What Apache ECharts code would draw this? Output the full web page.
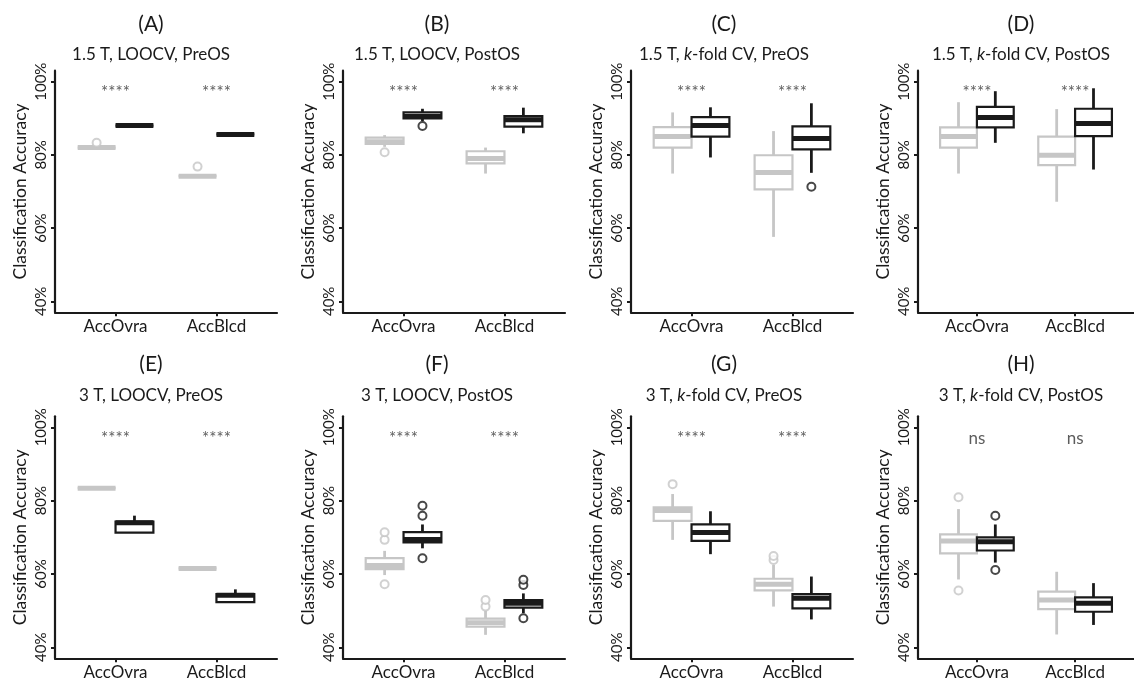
<!DOCTYPE html>
<html><head><meta charset="utf-8">
<script src="https://cdn.jsdelivr.net/npm/echarts@6/dist/echarts.min.js"></script>
<style>html,body{margin:0;padding:0;background:#fff}#c{width:1134px;height:685px}</style>
</head><body><div id="c"></div>
<script>
// ---------------- DATA ----------------
const categories = ['AccOvra', 'AccBlcd'];
const panelLetters = ['(A)', '(B)', '(C)', '(D)', '(E)', '(F)', '(G)', '(H)'];
const panelSubtitles = [
  '1.5 T, LOOCV, PreOS', '1.5 T, LOOCV, PostOS',
  '1.5 T, {i|k}-fold CV, PreOS', '1.5 T, {i|k}-fold CV, PostOS',
  '3 T, LOOCV, PreOS', '3 T, LOOCV, PostOS',
  '3 T, {i|k}-fold CV, PreOS', '3 T, {i|k}-fold CV, PostOS'
];
const yTicks = [40, 60, 80, 100];
const sigLabels = [
  ['****', '****'], ['****', '****'], ['****', '****'], ['****', '****'],
  ['****', '****'], ['****', '****'], ['****', '****'], ['ns', 'ns']
];
// per panel, per category: [lower whisker, Q1, median, Q3, upper whisker] (%)
const grayBoxes = [
  [[82.0, 82.0, 82.0, 82.0, 82.0], [74.2, 74.2, 74.2, 74.2, 74.2]],
  [[82.2, 83.0, 83.6, 84.7, 85.4], [74.9, 77.7, 79.0, 81.0, 82.0]],
  [[74.9, 82.0, 85.0, 87.6, 91.6], [57.6, 70.6, 75.2, 79.9, 86.5]],
  [[74.9, 82.0, 85.0, 87.5, 94.4], [67.2, 77.2, 79.9, 85.0, 92.5]],
  [[83.4, 83.4, 83.4, 83.4, 83.4], [61.5, 61.5, 61.5, 61.5, 61.5]],
  [[59.7, 61.3, 62.3, 64.3, 66.3], [43.4, 45.6, 46.7, 47.8, 50.0]],
  [[69.3, 74.5, 77.3, 78.2, 81.8], [51.1, 55.5, 57.2, 58.7, 62.5]],
  [[58.5, 65.6, 69.0, 70.8, 77.7], [43.5, 50.4, 52.9, 55.2, 60.6]]
];
const blackBoxes = [
  [[88.0, 88.0, 88.0, 88.0, 88.0], [85.6, 85.6, 85.6, 85.6, 85.6]],
  [[89.2, 90.0, 90.5, 91.6, 92.6], [85.9, 87.7, 89.6, 90.6, 92.9]],
  [[79.3, 85.0, 88.0, 90.3, 93.0], [75.1, 81.5, 84.5, 87.8, 94.1]],
  [[83.3, 87.5, 90.2, 93.1, 97.4], [76.0, 85.1, 88.6, 92.6, 98.2]],
  [[71.3, 71.3, 74.0, 74.3, 75.9], [52.3, 52.3, 54.2, 54.5, 55.8]],
  [[67.0, 68.6, 69.4, 71.4, 73.5], [49.3, 50.8, 52.0, 52.9, 54.7]],
  [[65.4, 69.0, 71.3, 73.5, 77.1], [47.6, 50.6, 53.4, 54.5, 59.3]],
  [[63.1, 66.4, 68.8, 70.0, 73.5], [46.1, 49.7, 52.0, 53.6, 57.5]]
];
// outliers: [category index (1 = AccOvra, 2 = AccBlcd), value %]
const grayOutliers = [
  [[1, 83.3], [2, 76.8]],
  [[1, 80.7]],
  [],
  [],
  [],
  [[1, 57.2], [1, 69.3], [1, 71.4], [2, 51.1], [2, 52.9]],
  [[1, 84.5], [2, 63.8], [2, 64.9]],
  [[1, 80.9], [1, 55.5]]
];
const blackOutliers = [
  [],
  [[1, 87.9]],
  [[2, 71.3]],
  [],
  [],
  [[1, 64.3], [1, 75.9], [1, 78.6], [2, 47.9], [2, 57.0], [2, 58.4]],
  [],
  [[1, 75.9], [1, 61.1]]
];

// ---------------- LAYOUT / STYLE ----------------
const FONT = 'Lato';
const GRAY = '#c6c6c6';
const BLACK = '#1a1a1a';
const TXT = '#1a1a1a';
const colLeft = [55, 343, 631, 918];
const colTitleX = [146, 432, 719, 1016];
const rowTop = [70.7, 416.3];
const rowH = [241.6, 242];
const gridW = 222;
const letterTop = [7, 347];
const subTop = [40, 381];
const DODGE = 0.1875, HALFW = 0.1875;
const SIG_Y = 97.0;

const chart = echarts.init(document.getElementById('c'), null, { renderer: 'canvas' });

function boxRender(offset, color) {
  return function (params, api) {
    const x = api.value(0) + offset;
    const lo = api.coord([x, api.value(1)]);
    const q1 = api.coord([x, api.value(2)]);
    const md = api.coord([x, api.value(3)]);
    const q3 = api.coord([x, api.value(4)]);
    const hi = api.coord([x, api.value(5)]);
    const w = api.size([HALFW * 2, 0])[0];
    const cx = lo[0];
    const l = cx - w / 2;
    return {
      type: 'group',
      children: [
        { type: 'line', shape: { x1: cx, y1: q3[1], x2: cx, y2: hi[1] }, style: { stroke: color, lineWidth: 2.8 } },
        { type: 'line', shape: { x1: cx, y1: q1[1], x2: cx, y2: lo[1] }, style: { stroke: color, lineWidth: 2.8 } },
        { type: 'rect', shape: { x: l, y: q3[1], width: w, height: q1[1] - q3[1] }, style: { fill: '#fff', stroke: color, lineWidth: 2.2 } },
        { type: 'line', shape: { x1: l, y1: md[1], x2: l + w, y2: md[1] }, style: { stroke: color, lineWidth: 5 } }
      ]
    };
  };
}

const grids = [], xAxes = [], yAxes = [], series = [], titles = [];
for (let i = 0; i < 8; i++) {
  const r = Math.floor(i / 4), c = i % 4;
  grids.push({ left: colLeft[c], top: rowTop[r], width: gridW, height: rowH[r], containLabel: false });
  xAxes.push({
    type: 'value', gridIndex: i, min: 0.4, max: 2.6,
    axisLine: { show: true, lineStyle: { color: BLACK, width: 2.2 } },
    axisTick: { show: true, customValues: [1, 2], length: 4, lineStyle: { color: BLACK, width: 2 } },
    axisLabel: {
      customValues: [1, 2], margin: 6, color: TXT, fontFamily: FONT, fontSize: 17,
      formatter: v => categories[Math.round(v) - 1]
    },
    splitLine: { show: false }
  });
  yAxes.push({
    type: 'value', gridIndex: i, min: 37, max: 103,
    name: 'Classification Accuracy', nameLocation: 'middle', nameGap: 26, nameRotate: 90,
    nameTextStyle: { color: TXT, fontFamily: FONT, fontSize: 17.5 },
    axisLine: { show: true, lineStyle: { color: BLACK, width: 2.2 } },
    axisTick: { show: true, customValues: yTicks, length: 4, lineStyle: { color: BLACK, width: 2 } },
    axisLabel: {
      customValues: yTicks, rotate: 90, margin: 6, color: TXT, fontFamily: FONT, fontSize: 15,
      formatter: v => v + '%'
    },
    splitLine: { show: false }
  });
  titles.push({
    text: panelLetters[i], left: colTitleX[c], top: letterTop[r], textAlign: 'center',
    textStyle: { fontFamily: FONT, fontSize: 21, fontWeight: 'normal', color: TXT, lineHeight: 24 }
  });
  titles.push({
    text: panelSubtitles[i], left: colTitleX[c], top: subTop[r], textAlign: 'center',
    textStyle: {
      fontFamily: FONT, fontSize: 17, fontWeight: 'normal', color: TXT, lineHeight: 20,
      rich: { i: { fontFamily: FONT, fontSize: 17, fontStyle: 'italic', color: TXT, lineHeight: 20 } }
    }
  });
  series.push({
    type: 'custom', xAxisIndex: i, yAxisIndex: i, clip: false,
    renderItem: boxRender(-DODGE, GRAY),
    data: grayBoxes[i].map((b, k) => [k + 1].concat(b))
  });
  series.push({
    type: 'custom', xAxisIndex: i, yAxisIndex: i, clip: false,
    renderItem: boxRender(DODGE, BLACK),
    data: blackBoxes[i].map((b, k) => [k + 1].concat(b))
  });
  series.push({
    type: 'scatter', xAxisIndex: i, yAxisIndex: i, symbol: 'circle', symbolSize: 8,
    itemStyle: { color: '#fff', borderColor: GRAY, borderWidth: 2 },
    data: grayOutliers[i].map(o => [o[0] - DODGE, o[1]])
  });
  series.push({
    type: 'scatter', xAxisIndex: i, yAxisIndex: i, symbol: 'circle', symbolSize: 8,
    itemStyle: { color: '#fff', borderColor: BLACK, borderWidth: 2 },
    data: blackOutliers[i].map(o => [o[0] + DODGE, o[1]])
  });
  series.push({
    type: 'scatter', xAxisIndex: i, yAxisIndex: i, symbolSize: 0,
    label: {
      show: true, position: 'inside', color: '#333', fontFamily: FONT, fontSize: 17,
      formatter: p => p.data[2]
    },
    data: sigLabels[i].map((s, k) => [k + 1, SIG_Y, s])
  });
}

chart.setOption({
  animation: false,
  backgroundColor: '#fff',
  title: titles,
  grid: grids,
  xAxis: xAxes,
  yAxis: yAxes,
  series: series
});
</script>
</body></html>
